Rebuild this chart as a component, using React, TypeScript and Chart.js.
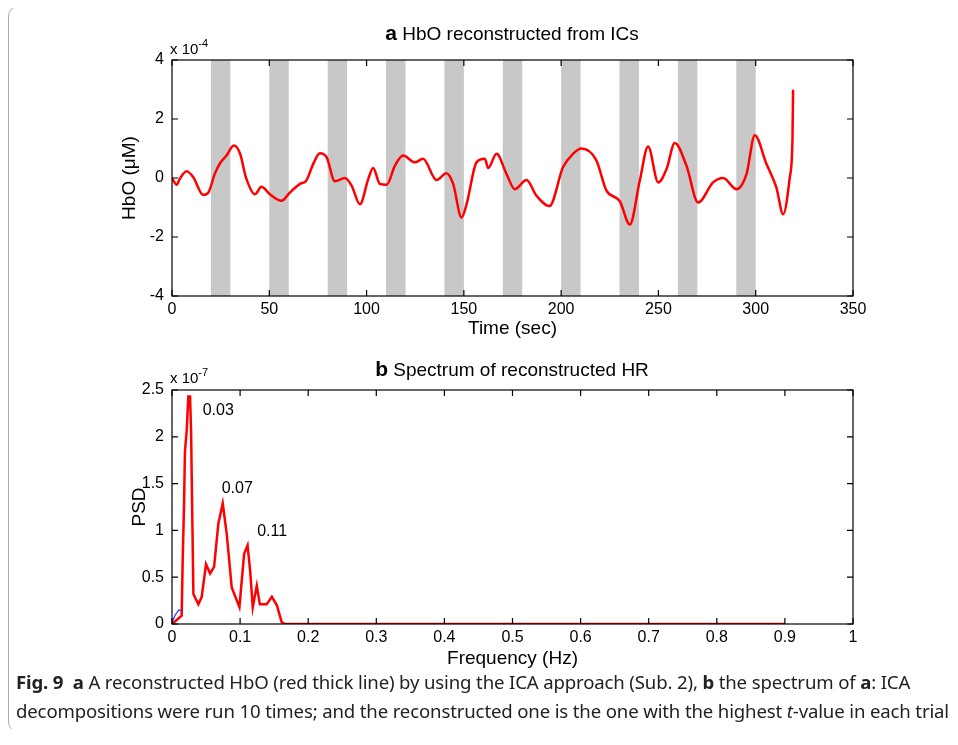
import React, { useEffect, useRef } from "react";
import { Chart, registerables } from "chart.js";
Chart.register(...registerables);

const hboTime = [0,2.4,4,7.5,11,16,18.7,22,24.7,28,31.8,35,38,42.6,46,50.3,56.3,60.6,65.8,69,72.6,76,79.5,83.7,88.9,92.3,96.6,100.9,103.4,106.8,110.3,114.6,118.8,124.8,129,136,141,144.5,148.8,151.4,156.5,160.8,162.5,166.8,171.9,176.2,182.2,187.3,194,201,206.1,210.4,218.1,223.3,230.1,235.3,240.4,244.7,249.9,254.2,258.4,264.4,270.4,278.1,283.3,290.1,295.3,299.5,305.5,310.6,314.1,317.5,318.9,319.2];
const hboValue = [0,-0.23,-0.03,0.23,0.02,-0.57,-0.49,0.14,0.5,0.76,1.1,0.82,0.02,-0.55,-0.3,-0.55,-0.77,-0.49,-0.2,-0.09,0.48,0.84,0.7,-0.11,0,-0.26,-0.89,-0.03,0.34,-0.2,-0.23,0.42,0.76,0.53,0.65,-0.07,0.16,-0.2,-1.34,-0.89,0.53,0.65,0.34,0.82,0.14,-0.38,-0.07,-0.6,-0.95,0.37,0.82,1.0,0.6,-0.43,-0.78,-1.58,-0.09,1.07,-0.15,0.31,1.19,0.42,-0.83,-0.15,0,-0.38,0.14,1.45,0.48,-0.32,-1.23,0.02,1.34,2.99];
const bandStarts = [20,50,80,110,140,170,200,230,260,290];
const bandWidth = 10;
const timeTicks = [0,50,100,150,200,250,300,350];
const hboTicks = [-4,-2,0,2,4];

const freq = [0,0.0142,0.0157,0.0176,0.019,0.0216,0.024,0.0265,0.028,0.03,0.0314,0.0387,0.0436,0.05,0.0559,0.0618,0.068,0.0745,0.0804,0.0877,0.099,0.1059,0.111,0.1147,0.1186,0.1245,0.129,0.139,0.1466,0.154,0.161,0.166,0.9];
const psd = [0,0.09,0.68,1.25,1.84,2.07,2.43,2.43,2.07,1.04,0.32,0.21,0.29,0.64,0.54,0.61,1.07,1.29,0.96,0.39,0.18,0.75,0.84,0.57,0.18,0.41,0.21,0.21,0.29,0.2,0.02,0,0];
const blueFreq = [0,0.005,0.01,0.015];
const bluePsd = [0.02,0.1,0.15,0.14];
const peakLabels = ["0.03","0.07","0.11"];
const peakX = [0.045,0.073,0.125];
const peakY = [2.28,1.45,0.99];
const freqTicks = [0,0.1,0.2,0.3,0.4,0.5,0.6,0.7,0.8,0.9,1];
const psdTicks = [0,0.5,1,1.5,2,2.5];

const FONT = "'Liberation Sans', Arial, sans-serif";

function framePlugin(xTicks: number[], yTicks: number[], bands?: number[]) {
  return {
    id: "frame",
    beforeDatasetsDraw(chart: any) {
      const { ctx, chartArea: a, scales } = chart;
      if (bands) {
        ctx.save();
        ctx.fillStyle = "#c8c8c8";
        for (const s of bands) {
          const x0 = scales.x.getPixelForValue(s);
          const x1 = scales.x.getPixelForValue(s + bandWidth);
          ctx.fillRect(x0, a.top, x1 - x0, a.bottom - a.top);
        }
        ctx.restore();
      }
    },
    afterDatasetsDraw(chart: any) {
      const { ctx, chartArea: a, scales } = chart;
      ctx.save();
      ctx.strokeStyle = "#000";
      ctx.lineWidth = 1.2;
      ctx.strokeRect(a.left, a.top, a.right - a.left, a.bottom - a.top);
      ctx.beginPath();
      for (const t of xTicks) {
        const x = scales.x.getPixelForValue(t);
        ctx.moveTo(x, a.bottom); ctx.lineTo(x, a.bottom - 6);
        ctx.moveTo(x, a.top); ctx.lineTo(x, a.top + 6);
      }
      for (const t of yTicks) {
        const y = scales.y.getPixelForValue(t);
        ctx.moveTo(a.left, y); ctx.lineTo(a.left + 6, y);
        ctx.moveTo(a.right, y); ctx.lineTo(a.right - 6, y);
      }
      ctx.stroke();
      ctx.restore();
    },
  };
}

const labelPlugin = {
  id: "peaks",
  afterDatasetsDraw(chart: any) {
    const { ctx, scales } = chart;
    ctx.save();
    ctx.fillStyle = "#000";
    ctx.font = `16px ${FONT}`;
    ctx.textAlign = "left";
    ctx.textBaseline = "middle";
    peakLabels.forEach((l, i) => ctx.fillText(l, scales.x.getPixelForValue(peakX[i]), scales.y.getPixelForValue(peakY[i])));
    ctx.restore();
  },
};

function scaleOpts(min: number, max: number, ticks: number[], title: string, axis: "x" | "y", size: number) {
  return {
    type: "linear",
    min, max,
    afterBuildTicks: (s: any) => { s.ticks = ticks.map((v) => ({ value: v })); },
    afterFit: (s: any) => { if (axis === "x") s.height = size; else s.width = size; },
    grid: { display: false, drawTicks: false },
    border: { display: false },
    ticks: { color: "#000", font: { size: 16, family: FONT }, padding: axis === "x" ? 4 : 8, callback: (v: any) => String(v) },
    title: { display: true, text: title, color: "#000", font: { size: 19, family: FONT }, padding: axis === "x" ? { top: 2 } : { bottom: 6 } },
  };
}

export default function App() {
  const r1 = useRef<HTMLCanvasElement>(null);
  const r2 = useRef<HTMLCanvasElement>(null);
  useEffect(() => {
    const c1 = new Chart(r1.current!, {
      type: "line",
      data: { datasets: [{ data: hboTime.map((t, i) => ({ x: t, y: hboValue[i] })), borderColor: "#ff0000", borderWidth: 2.5, pointRadius: 0, tension: 0.3, cubicInterpolationMode: "monotone" }] },
      options: {
        responsive: false, animation: false, parsing: false as any,
        layout: { padding: { top: 60, right: 105, left: 114, bottom: 0 } },
        plugins: { legend: { display: false }, tooltip: { enabled: false } },
        scales: { x: scaleOpts(0, 350, timeTicks, "Time (sec)", "x", 48) as any, y: scaleOpts(-4, 4, hboTicks, "HbO (\u03bcM)", "y", 58) as any },
      },
      plugins: [framePlugin(timeTicks, hboTicks, bandStarts)],
    });
    const c2 = new Chart(r2.current!, {
      type: "line",
      data: { datasets: [
        { data: blueFreq.map((f, i) => ({ x: f, y: bluePsd[i] })), borderColor: "#3030ff", borderWidth: 1.2, pointRadius: 0 },
        { data: freq.map((f, i) => ({ x: f, y: psd[i] })), borderColor: "#ff0000", borderWidth: 2.5, pointRadius: 0 },
      ] },
      options: {
        responsive: false, animation: false, parsing: false as any,
        layout: { padding: { top: 50, right: 105, left: 124, bottom: 0 } },
        plugins: { legend: { display: false }, tooltip: { enabled: false } },
        scales: { x: scaleOpts(0, 1, freqTicks, "Frequency (Hz)", "x", 50) as any, y: scaleOpts(0, 2.5, psdTicks, "PSD", "y", 48) as any },
      },
      plugins: [framePlugin(freqTicks, psdTicks), labelPlugin],
    });
    return () => { c1.destroy(); c2.destroy(); };
  }, []);

  const abs = (s: React.CSSProperties): React.CSSProperties => ({ position: "absolute", ...s });
  return (
    <div style={{ position: "relative", width: 958, height: 737, fontFamily: FONT, margin: -8 }}>
      <div style={abs({ left: 8, top: 6, width: 990, height: 726, border: "1px solid #aaa", borderRadius: 10, boxSizing: "border-box" })} />
      <canvas ref={r1} width={958} height={344} style={abs({ left: 0, top: 0 })} />
      <canvas ref={r2} width={958} height={334} style={abs({ left: 0, top: 340 })} />
      <div style={abs({ left: 0, width: 1024, top: 21, textAlign: "center", fontSize: 19 })}><b style={{ fontSize: 21 }}>a</b> HbO reconstructed from ICs</div>
      <div style={abs({ left: 0, width: 1024, top: 357, textAlign: "center", fontSize: 19 })}><b style={{ fontSize: 21 }}>b</b> Spectrum of reconstructed HR</div>
      <div style={abs({ left: 170, top: 37, fontSize: 15 })}>x 10<sup style={{ fontSize: 11, verticalAlign: 7 }}>-4</sup></div>
      <div style={abs({ left: 170, top: 366, fontSize: 15 })}>x 10<sup style={{ fontSize: 11, verticalAlign: 7 }}>-7</sup></div>
      <div style={abs({ left: 16, top: 667, width: 1000, fontFamily: "'Noto Sans', 'Open Sans', sans-serif", fontSize: 18.6, letterSpacing: -0.15, lineHeight: "29px", color: "#222", whiteSpace: "nowrap" })}>
        <b>Fig. 9</b>&nbsp; <b>a</b> A reconstructed HbO (red thick line) by using the ICA approach (Sub. 2), <b>b</b> the spectrum of <b>a</b>: ICA<br />decompositions were run 10 times; and the reconstructed one is the one with the highest <i>t</i>-value in each trial
      </div>
    </div>
  );
}
